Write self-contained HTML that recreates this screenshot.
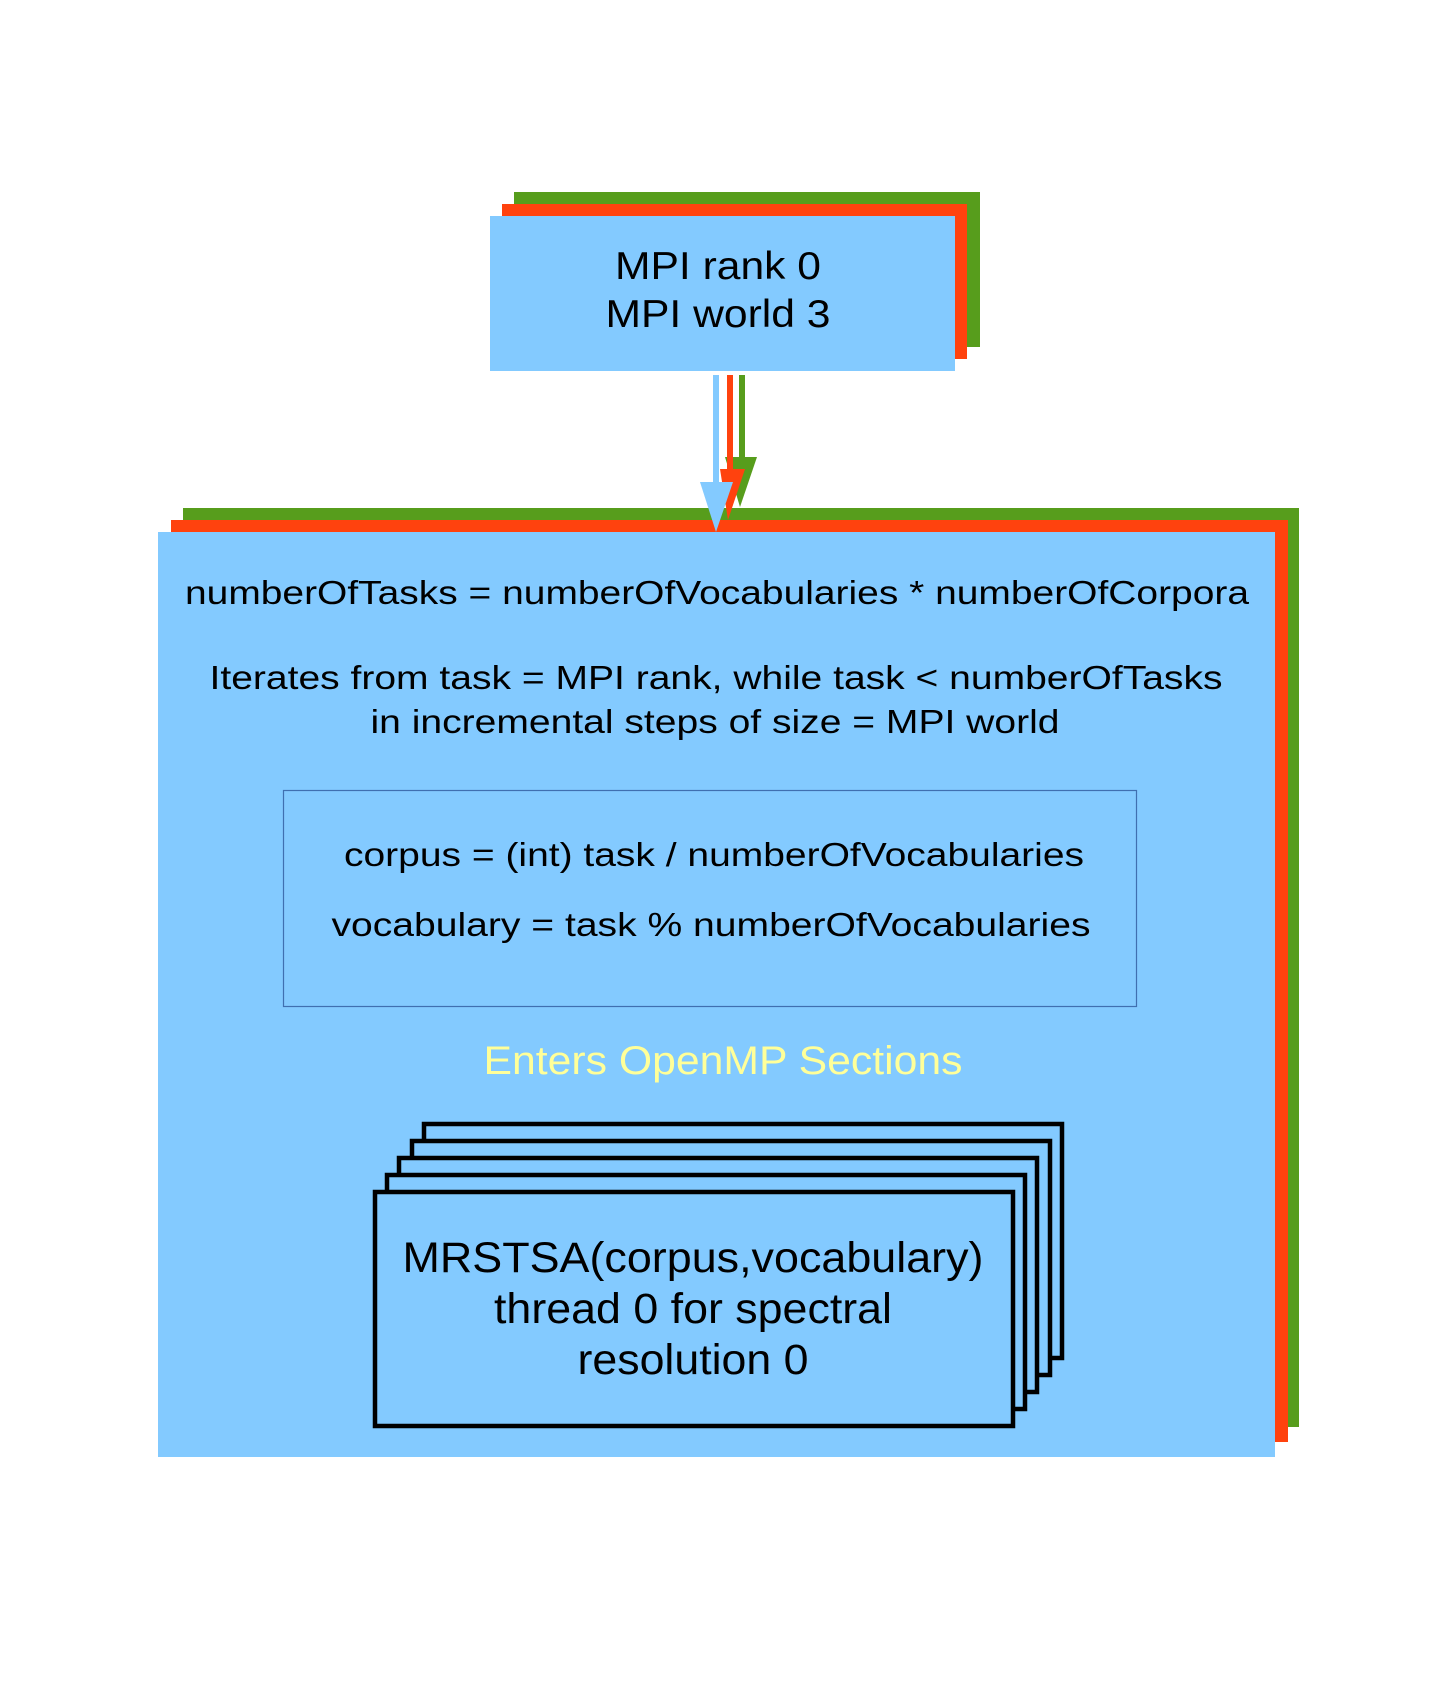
<!DOCTYPE html>
<html><head><meta charset="utf-8"><style>html,body{margin:0;padding:0;background:#fff}svg{display:block}text{font-family:"Liberation Sans",sans-serif;text-anchor:middle}</style></head>
<body>
<svg width="1448" height="1696" viewBox="0 0 1448 1696" xmlns="http://www.w3.org/2000/svg">
<rect x="514" y="192" width="466" height="155" fill="#579d1c"/>
<rect x="502" y="204" width="465" height="155" fill="#ff420e"/>
<rect x="490" y="216" width="465" height="155" fill="#83caff"/>
<text x="718" y="279" font-size="39" textLength="206" lengthAdjust="spacingAndGlyphs">MPI rank 0</text>
<text x="718" y="327" font-size="39" textLength="225" lengthAdjust="spacingAndGlyphs">MPI world 3</text>
<rect x="183" y="508" width="1116" height="919" fill="#579d1c"/>
<rect x="171" y="520" width="1117" height="922" fill="#ff420e"/>
<rect x="158" y="532" width="1117" height="925" fill="#83caff"/>
<line x1="742" y1="375" x2="742" y2="470" stroke="#579d1c" stroke-width="6"/>
<polygon points="725,457 757,457 740,507" fill="#579d1c"/>
<line x1="730" y1="375" x2="730" y2="480" stroke="#ff420e" stroke-width="6"/>
<polygon points="720,469 745,469 728,520" fill="#ff420e"/>
<line x1="716" y1="375" x2="716" y2="490" stroke="#83caff" stroke-width="6"/>
<polygon points="700,482 733,482 716,532" fill="#83caff"/>
<g font-size="33">
<text x="717" y="604" textLength="1064" lengthAdjust="spacingAndGlyphs">numberOfTasks = numberOfVocabularies * numberOfCorpora</text>
<text x="716" y="689" textLength="1013" lengthAdjust="spacingAndGlyphs">Iterates from task = MPI rank, while task &lt; numberOfTasks</text>
<text x="715" y="733" textLength="689" lengthAdjust="spacingAndGlyphs">in incremental steps of size = MPI world</text>
</g>
<rect x="283.5" y="790.5" width="853" height="216" fill="none" stroke="#3f6fb0" stroke-width="1.2"/>
<g font-size="33">
<text x="714" y="866" textLength="740" lengthAdjust="spacingAndGlyphs">corpus = (int) task / numberOfVocabularies</text>
<text x="711" y="936" textLength="759" lengthAdjust="spacingAndGlyphs">vocabulary = task % numberOfVocabularies</text>
</g>
<text x="723" y="1074" font-size="40" fill="#ffff99" textLength="479" lengthAdjust="spacingAndGlyphs">Enters OpenMP Sections</text>
<g fill="#83caff" stroke="#000" stroke-width="4.5">
<rect x="424" y="1124" width="638" height="234"/>
<rect x="412" y="1141" width="638" height="234"/>
<rect x="399" y="1158" width="638" height="234"/>
<rect x="387" y="1175" width="638" height="234"/>
<rect x="375" y="1192" width="638" height="234"/>
</g>
<g font-size="43">
<text x="693" y="1272" textLength="581" lengthAdjust="spacingAndGlyphs">MRSTSA(corpus,vocabulary)</text>
<text x="693" y="1323" textLength="398" lengthAdjust="spacingAndGlyphs">thread 0 for spectral</text>
<text x="693" y="1374" textLength="231" lengthAdjust="spacingAndGlyphs">resolution 0</text>
</g>
</svg>
</body></html>
